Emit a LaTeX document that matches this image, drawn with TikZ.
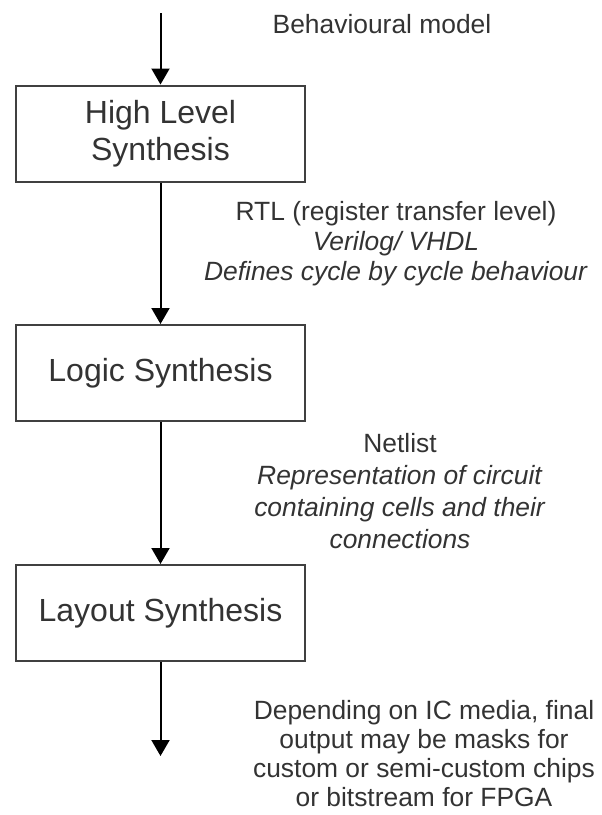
\documentclass[tikz,border=0pt]{standalone}
\usepackage{fontspec}
\setmainfont{Liberation Sans}
\usetikzlibrary{arrows.meta}
\begin{document}
\begin{tikzpicture}[x=0.75pt, y=-0.75pt, line join=miter,
        stage/.style={draw=black!75, line width=1.5pt, minimum width=216.75pt, minimum height=72pt, align=center, text=black!80, font=\fontsize{24}{27.75}\selectfont},
        note/.style={align=center, anchor=base, inner sep=0pt, text=black!80, font=\fontsize{19.8}{22.5}\selectfont},
        flow/.style={-{Triangle[width=13.5pt, length=12pt]}, line width=1.5pt}]
        \useasboundingbox (0, 0) rectangle (601, 815);
        \coordinate (in) at (160.5, 13);
        \coordinate (out) at (160.5, 756);
        \node[stage] (hls) at (160.5, 133.5) {High Level\\Synthesis};
        \node[stage] (ls) at (160.5, 373) {Logic Synthesis};
        \node[stage] (lay) at (160.5, 613) {Layout Synthesis};
        \node[note] (behav) at (382, 33) {Behavioural model};
        \node[note] (rtl) at (396, 280) {RTL (register transfer level)\\\textit{Verilog/ VHDL}\\\textit{Defines cycle by cycle behaviour}};
        \node[note, font=\fontsize{19.8}{24}\selectfont] (net) at (400, 548) {Netlist\\\textit{Representation of circuit}\\\textit{containing cells and their}\\\textit{connections}};
        \node[note, font=\fontsize{19.8}{21.75}\selectfont] (media) at (424, 806) {Depending on IC media, final\\output may be masks for\\custom or semi-custom chips\\or bitstream for FPGA};
        \draw[flow] (in) -- (hls);
        \draw[flow] (hls) -- (ls);
        \draw[flow] (ls) -- (lay);
        \draw[flow] (lay) -- (out);
    \end{tikzpicture}
\end{document}
